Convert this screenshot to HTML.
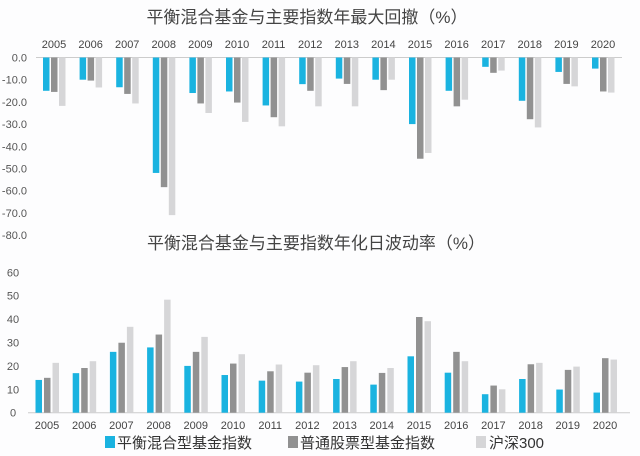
<!DOCTYPE html>
<html><head><meta charset="utf-8"><style>
body{margin:0;background:#fdfdfe;}
svg{display:block;font-family:"Liberation Sans","Noto Sans CJK SC",sans-serif;}
</style></head><body>
<svg id="c" width="640" height="456">
<text x="307" y="23" text-anchor="middle" font-size="17" fill="#444">平衡混合基金与主要指数年最大回撤（%）</text>
<text x="316" y="249" text-anchor="middle" font-size="17" fill="#444">平衡混合基金与主要指数年化日波动率（%）</text>
<g>
<rect x="105" y="436" width="10" height="12" fill="#1ab3e0"/>
<text x="117" y="448" font-size="15" fill="#333">平衡混合型基金指数</text>
<rect x="288" y="436" width="10" height="12" fill="#919191"/>
<text x="300" y="448" font-size="15" fill="#333">普通股票型基金指数</text>
<rect x="476" y="436" width="10" height="12" fill="#d6d6d8"/>
<text x="489" y="448" font-size="15" fill="#333">沪深300</text>
</g>
</svg>
<script>
const years=["2005","2006","2007","2008","2009","2010","2011","2012","2013","2014","2015","2016","2017","2018","2019","2020"];
const ddBalanced=[-15,-10,-13.4,-52,-16,-15.3,-21.6,-12,-9.5,-10,-30,-15,-4.2,-19.5,-6.5,-5];
const ddEquity=[-15.5,-10.4,-16.4,-58.4,-20.7,-20.3,-26.9,-15,-11.9,-14.7,-45.6,-22,-6.9,-27.8,-11.9,-15.3];
const ddHs300=[-21.8,-13.5,-20.7,-71,-25,-29,-31,-22,-22,-10,-43,-19,-5.9,-31.5,-13,-15.8];
const volBalanced=[14,16.9,26,27.9,20,16.1,13.7,13.3,14.4,12,24.1,17.1,7.9,14.4,9.9,8.6];
const volEquity=[14.9,19.1,29.9,33.4,26,21,17.7,17.1,19.5,17,40.9,26,11.6,20.7,18.3,23.3];
const volHs300=[21.3,22,36.7,48.3,32.4,25,20.6,20.3,22,19.1,39.1,22,10,21.3,19.7,22.7];
const ddTicks=[0,-10,-20,-30,-40,-50,-60,-70,-80];
const volTicks=[0,10,20,30,40,50,60];
const colors=["#1ab3e0","#919191","#d6d6d8"];
const names=["balanced","equity","hs300"];
const NS="http://www.w3.org/2000/svg";
const svg=document.getElementById('c');
function mk(t,a,txt){const e=document.createElementNS(NS,t);for(const k in a)e.setAttribute(k,a[k]);if(txt!=null)e.textContent=txt;svg.appendChild(e);return e;}
// top chart scales
const tX=i=>54+i*36.6, tY=v=>57.5+(-v)*2.22;
// bottom chart scales
const bX=i=>47+i*37.2, bY=v=>412.7-v*2.34;
let el;
el=mk('line',{x1:36,x2:622,y1:tY(0),y2:tY(0),stroke:'#ccc','stroke-width':1});


ddTicks.forEach(t=>{el=mk('text',{x:27,y:tY(t)+4,'text-anchor':'end','font-size':11,fill:'#555'},t.toFixed(1));

});
volTicks.forEach(t=>{el=mk('text',{x:13,y:bY(t)+4,'text-anchor':'middle','font-size':11,fill:'#555'},String(t));

});
el=mk('line',{x1:28,x2:630,y1:bY(0),y2:bY(0),stroke:'#ccc','stroke-width':1});


const dd=[ddBalanced,ddEquity,ddHs300], vol=[volBalanced,volEquity,volHs300];
years.forEach((y,i)=>{
 el=mk('text',{x:tX(i),y:48,'text-anchor':'middle','font-size':11,fill:'#444'},y);
 
 
 el=mk('text',{x:bX(i),y:429,'text-anchor':'middle','font-size':11,fill:'#444'},y);
 
 
 for(let s=0;s<3;s++){
  const v=dd[s][i];
  el=mk('rect',{x:tX(i)-11+s*8,y:tY(0),width:6.5,height:tY(v)-tY(0),fill:colors[s]});
  
  
  const w=vol[s][i];
  el=mk('rect',{x:bX(i)-11.5+s*8.5,y:bY(w),width:6.5,height:bY(0)-bY(w),fill:colors[s]});
  
  
 }
});
</script>
</body></html>
